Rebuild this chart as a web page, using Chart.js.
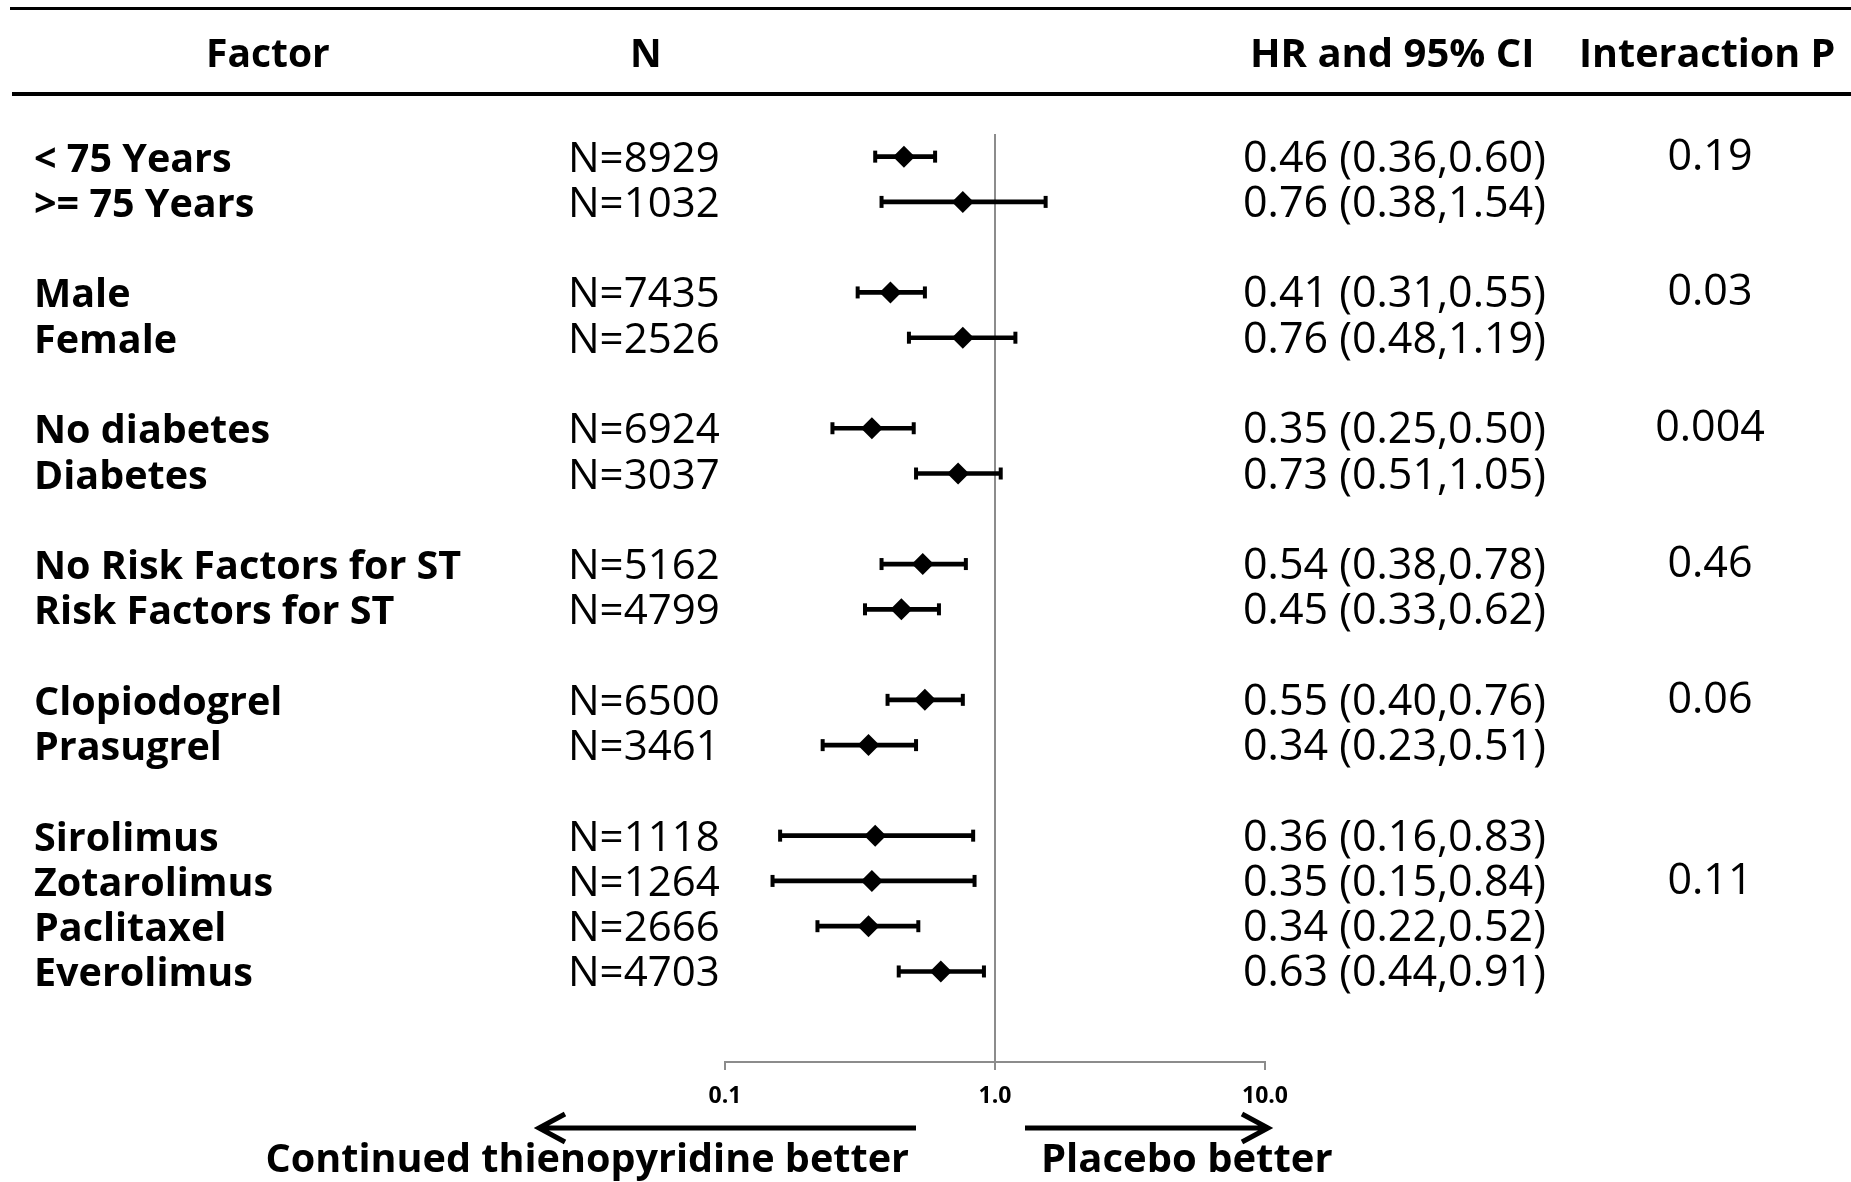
<!DOCTYPE html>
<html lang="en">
<head>
  <meta charset="UTF-8" />
  <title>Subgroup forest plot</title>
  <script src="https://cdn.jsdelivr.net/npm/chart.js"></script>
  <style>
    html, body { margin: 0; padding: 0; background: #fff; }
    canvas { display: block; }
  </style>
</head>
<body>

<canvas id="forestChart" width="1851" height="1182"></canvas>

<script>
// subgroup rows (top to bottom)
const factors = ['< 75 Years', '>= 75 Years', 'Male', 'Female', 'No diabetes', 'Diabetes',
  'No Risk Factors for ST', 'Risk Factors for ST', 'Clopiodogrel', 'Prasugrel',
  'Sirolimus', 'Zotarolimus', 'Paclitaxel', 'Everolimus'];
// row slot of each factor on the y scale (blank slots between groups)
const rowPos = [0, 1, 3, 4, 6, 7, 9, 10, 12, 13, 15, 16, 17, 18];
const nCounts = [8929, 1032, 7435, 2526, 6924, 3037, 5162, 4799, 6500, 3461, 1118, 1264, 2666, 4703];
const hr     = [0.46, 0.76, 0.41, 0.76, 0.35, 0.73, 0.54, 0.45, 0.55, 0.34, 0.36, 0.35, 0.34, 0.63];
const ciLow  = [0.36, 0.38, 0.31, 0.48, 0.25, 0.51, 0.38, 0.33, 0.40, 0.23, 0.16, 0.15, 0.22, 0.44];
const ciHigh = [0.60, 1.54, 0.55, 1.19, 0.50, 1.05, 0.78, 0.62, 0.76, 0.51, 0.83, 0.84, 0.52, 0.91];
const interactionP = ['0.19', '0.03', '0.004', '0.46', '0.06', '0.11'];
const pRows = [0, 3, 6, 9, 12, 16];
const tickValues = [0.1, 1, 10];
const tickLabels = ['0.1', '1.0', '10.0'];

const GREY = '#8c8c8c';
const FONT = '"Open Sans", "Noto Sans", sans-serif';

const diamonds = hr.map((v, i) => ({ x: v, y: rowPos[i] }));
const caps = [];
ciLow.forEach((lo, i) => {
  caps.push({ x: lo, y: rowPos[i] });
  caps.push({ x: ciHigh[i], y: rowPos[i] });
});
const ciBars = ciLow.map((lo, i) => ({ x: [lo, ciHigh[i]], y: rowPos[i] }));

function arrow(ctx, x0, x1, y) {
  const dir = x1 > x0 ? 1 : -1;
  ctx.beginPath();
  ctx.moveTo(x0, y);
  ctx.lineTo(x1, y);
  ctx.moveTo(x1 - dir * 26, y - 14);
  ctx.lineTo(x1, y);
  ctx.lineTo(x1 - dir * 26, y + 14);
  ctx.stroke();
}

const tablePlugin = {
  id: 'tableText',
  beforeDraw(chart) {
    const ctx = chart.ctx;
    ctx.save();
    ctx.fillStyle = '#fff';
    ctx.fillRect(0, 0, chart.width, chart.height);
    ctx.restore();
  },
  afterDraw(chart) {
    const ctx = chart.ctx;
    const ys = chart.scales.y;
    ctx.save();
    ctx.fillStyle = '#000';

    // header rules
    ctx.fillRect(10, 7, 1841, 3);
    ctx.fillRect(12, 92, 1839, 4);

    ctx.textBaseline = 'alphabetic';
    ctx.textAlign = 'left';
    ctx.font = 'bold 39px ' + FONT;
    ctx.fillText('Factor', 206, 67);
    ctx.fillText('N', 630, 67);
    ctx.font = 'bold 40px ' + FONT;
    ctx.fillText('HR and 95% CI', 1250, 67);
    ctx.font = 'bold 39.5px ' + FONT;
    ctx.fillText('Interaction P', 1579, 67);

    // row text
    factors.forEach((f, i) => {
      const py = ys.getPixelForValue(rowPos[i]) + 15;
      ctx.textAlign = 'left';
      ctx.font = 'bold 39.5px ' + FONT;
      ctx.fillText(f, 34, py);
      ctx.font = '42px ' + FONT;
      ctx.fillText('N=' + nCounts[i], 568, py);
      ctx.font = '43px ' + FONT;
      ctx.fillText(hr[i].toFixed(2) + ' (' + ciLow[i].toFixed(2) + ',' + ciHigh[i].toFixed(2) + ')', 1243, py);
    });

    ctx.textAlign = 'center';
    ctx.font = '43px ' + FONT;
    interactionP.forEach((p, i) => {
      ctx.fillText(p, 1710, ys.getPixelForValue(pRows[i]) + 13);
    });

    // direction arrows and captions
    ctx.strokeStyle = '#000';
    ctx.lineWidth = 5;
    arrow(ctx, 916, 539, 1128);
    arrow(ctx, 1025, 1268, 1128);

    ctx.font = 'bold 39.6px ' + FONT;
    ctx.textAlign = 'right';
    ctx.fillText('Continued thienopyridine better', 909, 1172);
    ctx.font = 'bold 40px ' + FONT;
    ctx.textAlign = 'left';
    ctx.fillText('Placebo better', 1041, 1172);
    ctx.restore();
  }
};

new Chart(document.getElementById('forestChart'), {
  type: 'scatter',
  data: {
    datasets: [
      {
        label: 'HR',
        data: diamonds,
        pointStyle: 'rectRot',
        pointRadius: 11,
        backgroundColor: '#000',
        borderColor: '#000',
        borderWidth: 0
      },
      {
        label: 'CI caps',
        data: caps,
        pointStyle: 'line',
        rotation: 90,
        pointRadius: 6,
        borderColor: '#000',
        borderWidth: 4
      },
      {
        type: 'bar',
        label: '95% CI',
        indexAxis: 'y',
        data: ciBars,
        backgroundColor: '#000',
        borderWidth: 0,
        barThickness: 4
      }
    ]
  },
  options: {
    responsive: false,
    devicePixelRatio: 1,
    animation: false,
    layout: { padding: { left: 725, right: 586, top: 134, bottom: 60 } },
    plugins: { legend: { display: false }, tooltip: { enabled: false } },
    scales: {
      x: {
        type: 'logarithmic',
        min: 0.1,
        max: 10,
        offset: false,
        afterBuildTicks: s => { s.ticks = tickValues.map(v => ({ value: v })); },
        afterFit: s => { s.height = 60; },
        ticks: {
          callback: (v, i) => tickLabels[i],
          color: '#000',
          font: { family: FONT, size: 23, weight: 'bold' },
          padding: 13,
          maxRotation: 0,
          autoSkip: false
        },
        grid: {
          offset: false,
          color: c => (c.tick && c.tick.value === 1 ? GREY : 'rgba(0,0,0,0)'),
          tickColor: GREY,
          lineWidth: 2,
          tickLength: 8
        },
        border: { display: true, color: GREY, width: 2 }
      },
      y: {
        type: 'linear',
        reverse: true,
        min: -0.5,
        max: 20,
        offset: false,
        grid: { offset: false },
        display: false
      }
    }
  },
  plugins: [tablePlugin]
});
</script>

</body>
</html>
